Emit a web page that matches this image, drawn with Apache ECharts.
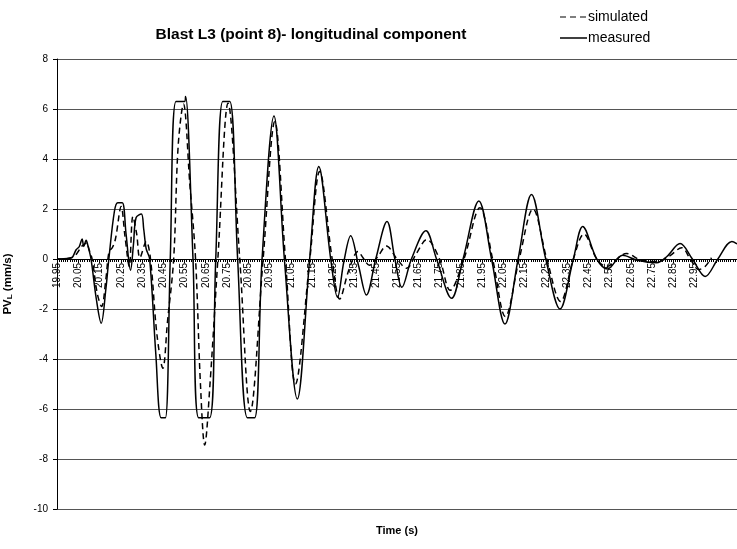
<!DOCTYPE html>
<html>
<head>
<meta charset="utf-8">
<script src="https://cdn.jsdelivr.net/npm/echarts@6/dist/echarts.min.js"></script>
<style>
html,body{margin:0;padding:0;background:#fff;}
#chart{width:737px;height:549px;}
</style>
</head>
<body>
<div id="chart"></div>
<script>
// Time (s) and PV_L (mm/s) readings — measured record
const measuredT = [19.95,19.97,20.00,20.02,20.04,20.055,20.068,20.076,20.087,20.095,20.11,20.135,20.158,20.18,20.194,20.22,20.236,20.257,20.275,20.296,20.31,20.322,20.347,20.358,20.37,20.386,20.415,20.44,20.46,20.483,20.51,20.55,20.555,20.59,20.617,20.668,20.697,20.73,20.763,20.80,20.846,20.88,20.915,20.971,21.02,21.081,21.139,21.182,21.238,21.27,21.30,21.332,21.37,21.406,21.45,21.503,21.54,21.573,21.618,21.686,21.736,21.807,21.861,21.935,21.995,22.058,22.12,22.183,22.25,22.317,22.38,22.424,22.49,22.54,22.612,22.68,22.772,22.82,22.882,22.94,23.0,23.06,23.126,23.15];
const measuredV = [0,0,0.02,0.05,0.37,0.5,0.8,0.5,0.75,0.55,0,-1.6,-2.57,-1.2,0,1.9,2.25,2.25,1.0,-0.45,0.6,1.65,1.8,1.2,0.4,0,-3.8,-6.35,-6.35,0,6.3,6.3,6.5,0,-6.35,-6.35,0,6.3,6.3,0,-6.35,-6.35,0,5.72,0,-5.6,0,3.7,0,-1.53,-0.1,0.93,-0.3,-1.44,0,1.5,0,-1.13,0,1.13,0,-1.57,0,2.32,0,-2.6,0,2.58,0,-2.0,0,1.3,0,-0.4,0.15,-0.05,-0.15,0.1,0.62,0,-0.7,0,0.7,0.6];

// simulated record
const simulatedT = [19.95,19.97,20.00,20.03,20.05,20.065,20.08,20.09,20.10,20.115,20.14,20.16,20.18,20.195,20.21,20.225,20.252,20.27,20.29,20.307,20.325,20.34,20.37,20.39,20.42,20.448,20.47,20.499,20.52,20.545,20.575,20.602,20.625,20.645,20.67,20.707,20.755,20.81,20.86,20.92,20.975,21.025,21.072,21.14,21.186,21.245,21.28,21.325,21.367,21.39,21.42,21.46,21.50,21.55,21.595,21.64,21.69,21.75,21.80,21.865,21.94,22.0,22.06,22.125,22.19,22.255,22.32,22.38,22.43,22.49,22.535,22.63,22.70,22.78,22.83,22.89,22.93,22.97,23.0,23.03];
const simulatedV = [0,0,0.02,0.1,0.3,0.5,0.6,0.65,0.4,0,-1.4,-1.9,-0.8,0.3,0.45,0.8,2.1,0.9,-0.3,1.7,1.0,0.05,0.7,0,-3.0,-4.37,-2.5,0,4.5,6.2,3.0,0,-5.0,-7.44,-5.0,0,6.23,0,-6.1,0,5.5,0,-5.0,0,3.5,0,-1.6,-0.4,0.3,0.05,-0.25,0.1,0.52,0,-0.37,0.2,0.78,0,-1.25,0,2.05,0,-2.3,0,2.0,0,-1.7,0,1.0,0,-0.3,0.22,-0.05,-0.1,0.1,0.45,0,-0.42,-0.3,0.05];

const yTicks = [-10,-8,-6,-4,-2,0,2,4,6,8];
const xLabelLast = 22.95;
const seriesNames = ['simulated', 'measured'];

const zip = (t, v) => t.map((x, i) => [x, v[i]]);
const FONT = "'Liberation Sans', Arial, sans-serif";

const GRID_TOP = 59, GRID_BOTTOM = 40, H = 549;
const plotH = H - GRID_TOP - GRID_BOTTOM;
const yMin = yTicks[0], yMax = yTicks[yTicks.length-1];
// x-axis crosses the value axis at 0: shift it up from the bottom of the plot
const zeroOffset = -plotH * (0 - yMin) / (yMax - yMin);

const chart = echarts.init(document.getElementById('chart'), null, {renderer: 'canvas'});
chart.setOption({
  animation: false,
  backgroundColor: '#fff',
  title: {
    text: 'Blast L3 (point 8)- longitudinal component',
    left: 306, top: 22, textAlign: 'center',
    textStyle: {fontFamily: FONT, fontWeight: 'bold', fontSize: 15.5, color: '#000'}
  },
  graphic: [
    {type: 'line', shape: {x1: 560, y1: 17, x2: 587, y2: 17}, style: {stroke: '#000', lineWidth: 1.2, lineDash: [6, 4]}},
    {type: 'text', x: 588, y: 17, style: {text: seriesNames[0], fill: '#000', font: "14px 'Liberation Sans', Arial", textVerticalAlign: 'middle'}},
    {type: 'line', shape: {x1: 560, y1: 38, x2: 587, y2: 38}, style: {stroke: '#000', lineWidth: 1.5}},
    {type: 'text', x: 588, y: 38, style: {text: seriesNames[1], fill: '#000', font: "14px 'Liberation Sans', Arial", textVerticalAlign: 'middle'}},
    {type: 'text', x: 397, y: 531, style: {text: 'Time (s)', fill: '#000', font: "bold 11px 'Liberation Sans', Arial", textAlign: 'center', textVerticalAlign: 'middle'}}
  ],
  grid: {left: 57, right: 0, top: GRID_TOP, bottom: GRID_BOTTOM, containLabel: false, outerBoundsMode: 'none'},
  xAxis: {
    type: 'value', min: 19.95, max: 23.15, interval: 0.1,
    position: 'bottom', offset: zeroOffset,
    axisLine: {onZero: false, lineStyle: {color: '#000', width: 1}},
    axisTick: {show: true, length: 4, lineStyle: {color: '#000'}},
    minorTick: {show: true, splitNumber: 10, length: 3, lineStyle: {color: '#000'}},
    splitLine: {show: false},
    axisLabel: {
      rotate: 90, fontFamily: FONT, fontSize: 10, color: '#000', margin: 4,
      showMaxLabel: false,
      formatter: v => (v > xLabelLast + 0.01 ? '' : v.toFixed(2))
    }
  },
  yAxis: {
    type: 'value', min: yMin, max: yMax, interval: 2,
    name: '{a|PV}{s|L}{a| (mm/s)}', nameLocation: 'middle', nameGap: 43, nameRotate: 90,
    nameTextStyle: {
      rich: {
        a: {fontFamily: FONT, fontWeight: 'bold', fontSize: 11.5, color: '#000'},
        s: {fontFamily: FONT, fontWeight: 'bold', fontSize: 8, color: '#000', verticalAlign: 'bottom', padding: [4,0,0,0]}
      }
    },
    axisLine: {show: true, onZero: false, lineStyle: {color: '#000', width: 1}},
    axisTick: {show: true, length: 4, lineStyle: {color: '#000'}},
    splitLine: {show: true, lineStyle: {color: '#555', width: 1}},
    axisLabel: {fontFamily: FONT, fontSize: 10, color: '#000', margin: 9}
  },
  series: [
    {
      name: seriesNames[0], type: 'line', data: zip(simulatedT, simulatedV),
      showSymbol: false, smooth: 0.35,
      lineStyle: {color: '#000', width: 1.5, type: [6, 4]},
      itemStyle: {color: '#000'}, z: 3
    },
    {
      name: seriesNames[1], type: 'line', data: zip(measuredT, measuredV),
      showSymbol: false, smooth: 0.35,
      lineStyle: {color: '#000', width: 1.5, type: 'solid'},
      itemStyle: {color: '#000'}, z: 4
    }
  ]
});
</script>
</body>
</html>
